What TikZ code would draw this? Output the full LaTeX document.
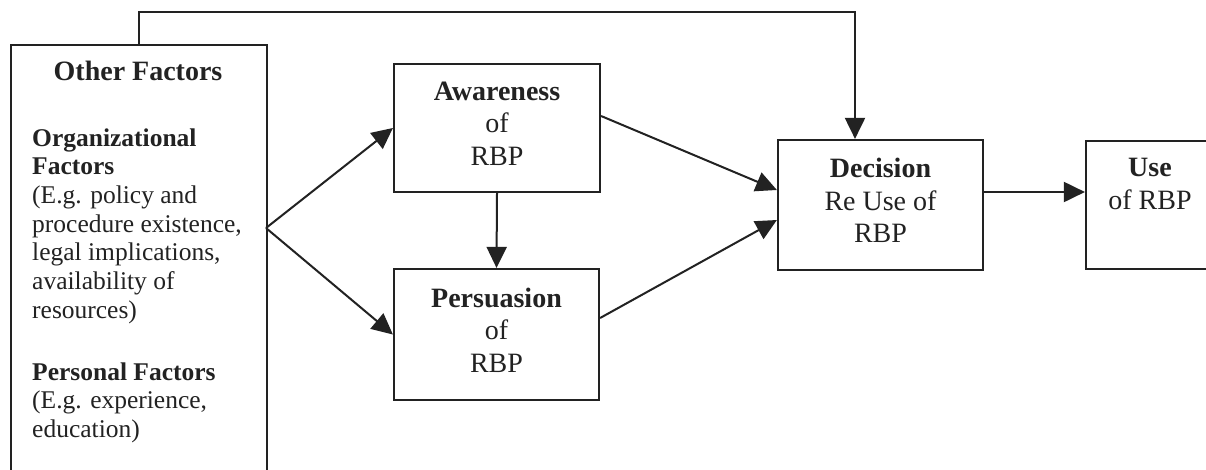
\documentclass[tikz,border=0pt]{standalone}
\usepackage{fontspec}
\setmainfont{Liberation Serif}
\usetikzlibrary{arrows.meta}
\definecolor{ink}{HTML}{222222}
\newcommand\lowdepth{\rule[-9pt]{0pt}{0pt}}
\begin{document}
\begin{tikzpicture}[x=1pt,y=-1pt,color=ink,
  box/.style={draw, line width=2.2pt, rectangle, inner sep=0pt, align=center,
    font=\fontsize{28}{32.7}\selectfont},
  arr/.style={-{Triangle[length=21pt,width=20pt]}, line width=2pt}]
\clip (0,0) rectangle (1206,469);
\fill[white] (0,0) rectangle (1206,469);
% left box
\node[box, minimum width=256, minimum height=470, anchor=north west] (other) at (10,44) {};
\node[anchor=base, inner sep=0pt, font=\bfseries\fontsize{28}{32}\selectfont] (othertitle) at (138,80) {Other Factors};
\node[anchor=north west, inner sep=0pt, align=left, font=\fontsize{25.5}{28.7}\selectfont] (othertext) at (32,125.9)
  {\strut\textbf{Organizational}\\ \textbf{Factors}\\ (E.g. policy and\\ procedure existence,\\ legal implications,\\ availability of\\ resources)\\[33.1pt] \textbf{Personal Factors}\\ (E.g. experience,\\ education)};
% boxes
\node[box, minimum width=206, minimum height=128] (aw) at (497,128) {\textbf{Awareness}\\of\\RBP\lowdepth};
\node[box, minimum width=205, minimum height=131] (pe) at (496.5,334.5) {\textbf{Persuasion}\\of\\RBP\lowdepth};
\node[box, minimum width=205, minimum height=130] (dec) at (880.5,205) {\textbf{Decision}\\Re Use of\\RBP\lowdepth};
\node[box, minimum width=128, minimum height=128] (use) at (1150,205) {\textbf{Use}\\of RBP\\\phantom{RBP}\lowdepth};
% connectors
\coordinate (split) at (266,228);
\coordinate (top) at (855,12);
\draw[arr] (split) -- (aw.west);
\draw[arr] (split) -- (pe.west);
\draw[arr] (aw.south) -- (pe.north);
\draw[arr] ([yshift=12pt]aw.east) -- ([yshift=15pt]dec.west);
\draw[arr] ([yshift=16.5pt]pe.east) -- ([yshift=-15pt]dec.west);
\draw[arr] ([yshift=13pt]dec.east) -- ([yshift=13pt]use.west);
\draw[arr] (other.north) |- (top) -- (top |- dec.north);
\end{tikzpicture}
\end{document}
